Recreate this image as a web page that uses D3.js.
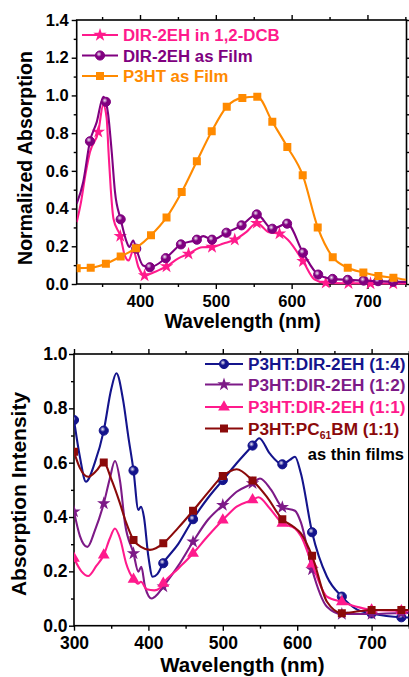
<!DOCTYPE html>
<html>
<head>
<meta charset="utf-8">
<script src="https://cdn.jsdelivr.net/npm/d3@7"></script>
<style>
  body { margin: 0; background: #fff; }
  svg { display: block; font-family: "Liberation Sans", Arial, sans-serif; font-weight: bold; }
</style>
</head>
<body>
<div id="chart"></div>
<script>
// ---- top panel data: [wavelength nm, absorption, 1 = symbol drawn] ----
var topXTicks = [400, 500, 600, 700]
var topXMinor = [350, 450, 550, 650, 750]
var topYTicks = [0, 0.2, 0.4, 0.6, 0.8, 1.0, 1.2, 1.4]
var topYMinor = [0.1, 0.3, 0.5, 0.7, 0.9, 1.1, 1.3]

var dirSolution = [
  [316.5,0.328,0],[322,0.43,0],[328,0.58,0],[334,0.70,0],[345,0.807,1],[351.5,0.95,0],[356,0.88,0],
  [358.5,0.70,0],[361.5,0.50,0],[365,0.346,0],[374,0.254,1],[380,0.151,0],[385,0.125,0],[391,0.178,0],
  [398,0.089,0],[406,0.045,1],[420,0.065,0],[435,0.093,1],[450,0.135,0],[464,0.16,1],[482,0.195,0],
  [495,0.196,1],[510,0.215,0],[525,0.235,1],[540,0.275,0],[554,0.323,1],[570,0.275,0],[584,0.267,1],
  [595,0.235,0],[615,0.121,1],[630,0.025,0],[645,0.006,1],[675,0.004,1],[704,0.003,1],[734,0.003,1],[751,0.003,0]
]
var dirFilm = [
  [316.5,0.426,0],[325,0.54,0],[334,0.757,1],[343,0.86,0],[351.6,0.993,0],[355,0.966,1],[358,0.90,0],
  [362.7,0.70,0],[367,0.488,0],[374.5,0.343,1],[382.5,0.222,0],[386,0.196,0],[391,0.231,0],[395,0.187,1],
  [404,0.098,0],[413,0.089,1],[434,0.137,1],[454,0.21,1],[475,0.235,1],[483.5,0.254,0],[495,0.235,1],
  [514,0.272,1],[534,0.311,1],[554,0.369,1],[574.5,0.293,1],[594,0.32,1],[615,0.166,1],[635,0.05,1],
  [654,0.027,1],[674,0.022,1],[695,0.018,1],[714,0.015,1],[734,0.012,1],[751,0.011,0]
]
var p3htFilm = [
  [316.5,0.084,1],[335,0.086,1],[355,0.107,1],[374.5,0.146,1],[394.7,0.19,1],[414.5,0.258,1],[435,0.353,1],
  [455,0.488,1],[475,0.651,1],[494.6,0.81,1],[514.4,0.94,1],[535,0.987,1],[554.7,0.993,1],[574.5,0.86,1],
  [594.3,0.727,1],[614.6,0.577,1],[634.4,0.30,1],[654.2,0.142,1],[674,0.086,1],[694.6,0.061,1],
  [714.4,0.043,1],[734.2,0.033,1],[751,0.022,0]
]
var topNames = ['DIR-2EH in 1,2-DCB', 'DIR-2EH as Film', 'P3HT as Film']

// ---- bottom panel data ----
var botXTicks = [300, 400, 500, 600, 700]
var botXMinor = [350, 450, 550, 650, 750]
var botYTicks = [0, 0.2, 0.4, 0.6, 0.8, 1.0]
var botYMinor = [0.1, 0.3, 0.5, 0.7, 0.9]

var blend14 = [
  [300,0.757,1],[308,0.62,0],[316,0.53,0],[328,0.60,0],[340,0.718,1],[350,0.87,0],[357,0.929,0],[366,0.83,0],
  [373,0.696,0],[380,0.571,1],[386.5,0.426,0],[390,0.438,0],[394,0.40,0],[400,0.254,0],[405.7,0.18,0],
  [412,0.19,0],[420,0.23,1],[440,0.30,0],[460,0.392,1],[480,0.47,0],[500,0.536,1],[518.6,0.598,0],
  [540,0.663,1],[549,0.69,0],[563,0.634,0],[580,0.594,1],[590,0.61,0],[597,0.622,0],[605,0.56,0],
  [620,0.344,1],[640,0.18,0],[660,0.107,1],[680,0.06,0],[700,0.045,1],[720,0.036,0],[740,0.031,1],[750,0.03,0]
]
var blend12 = [
  [300,0.42,1],[308,0.33,0],[318,0.29,0],[328,0.35,0],[340,0.45,1],[348,0.54,0],[355,0.606,0],[362,0.53,0],
  [368.5,0.377,0],[380,0.266,1],[386.5,0.199,0],[390.5,0.217,0],[395.5,0.143,0],[404.4,0.10,0],[412,0.115,0],
  [420,0.144,1],[440,0.22,0],[460,0.309,1],[480,0.39,0],[500,0.444,1],[518.6,0.493,0],[540,0.524,1],
  [550,0.542,0],[565,0.50,0],[580,0.436,1],[597,0.423,0],[605,0.38,0],[620,0.207,1],[640,0.07,0],
  [660,0.043,1],[700,0.043,1],[740,0.047,1],[750,0.047,0]
]
var blend11 = [
  [300,0.248,1],[310,0.20,0],[319,0.183,0],[330,0.22,0],[340,0.26,1],[348,0.32,0],[355,0.358,0],[362,0.32,0],
  [370,0.23,0],[380,0.171,1],[386,0.155,0],[390,0.162,0],[397.7,0.134,0],[408,0.13,0],[416,0.139,0],
  [420,0.156,1],[440,0.21,0],[460,0.266,1],[480,0.33,0],[500,0.389,1],[518.6,0.438,0],[540,0.463,1],
  [548,0.473,0],[563,0.432,0],[580,0.377,1],[597,0.358,0],[605,0.33,0],[620,0.227,1],[640,0.107,0],
  [660,0.088,1],[680,0.07,0],[700,0.058,1],[740,0.055,1],[750,0.055,0]
]
var pcbm11 = [
  [300,0.64,1],[308,0.58,0],[319,0.548,0],[330,0.57,0],[340,0.601,1],[350,0.54,0],[361.8,0.45,0],[370,0.38,0],
  [380,0.315,1],[390,0.29,0],[402,0.279,0],[410,0.285,0],[420,0.303,1],[440,0.36,0],[460,0.423,1],[480,0.49,0],
  [500,0.551,1],[518.6,0.576,0],[540,0.534,1],[559,0.475,0],[580,0.392,1],[595,0.364,0],[605,0.34,0],
  [620,0.257,1],[640,0.088,0],[660,0.046,1],[700,0.058,1],[740,0.058,1],[750,0.058,0]
]

var W = 409, H = 677

var svg = d3.select('#chart')
  .append('svg')
    .attr('width', W)
    .attr('height', H)

var defs = svg.append('defs')

// shaded ball look used by the circle symbols
function ball(id, color){
  var g = defs.append('radialGradient')
      .attr('id', id)
      .attr('cx', '38%').attr('cy', '35%').attr('r', '65%')
  g.append('stop').attr('offset', '0%').attr('stop-color', '#f2eef6')
  g.append('stop').attr('offset', '45%').attr('stop-color', color)
  g.append('stop').attr('offset', '100%').attr('stop-color', color)
  return 'url(#' + id + ')'
}

var symbols = {
  star: [d3.symbolStar, 56],
  circle: [d3.symbolCircle, 66],
  square: [d3.symbolSquare, 64],
  triangle: [d3.symbolTriangle, 60]
}

function marker(g, shape, color, fill, cx, cy){
  var s = symbols[shape]
  g.append('path')
      .attr('d', d3.symbol().type(s[0]).size(s[1])())
      .attr('transform', 'translate(' + cx + ',' + cy + ')')
      .attr('fill', fill || color)
      .attr('stroke', shape == 'circle' ? color : 'none')
      .attr('stroke-width', 1)
}

function panel(o){
  var x = d3.scaleLinear().domain(o.xDomain).range([o.left, o.right])
  var y = d3.scaleLinear().domain(o.yDomain).range([o.bottom, o.top])
  var g = svg.append('g')

  function styleAxis(sel){
    sel.select('.domain').remove()
    sel.selectAll('line').attr('stroke', '#000').attr('stroke-width', 1.4)
    sel.selectAll('text').attr('font-family', null).attr('font-size', o.tickFont).attr('fill', '#000')
    sel.attr('font-family', null)
  }

  // main ticks with labels
  g.append('g').attr('transform', 'translate(0,' + o.bottom + ')')
      .call(d3.axisBottom(x).tickValues(o.xTicks).tickSize(5).tickPadding(o.xPad).tickFormat(d3.format('d')))
      .call(styleAxis)
  g.append('g').attr('transform', 'translate(' + o.left + ',0)')
      .call(d3.axisLeft(y).tickValues(o.yTicks).tickSize(5).tickPadding(o.yPad).tickFormat(d3.format('.1f')))
      .call(styleAxis)
  // minor ticks and mirrored ticks on top / right
  var more = [
    [d3.axisBottom(x).tickValues(o.xMinor).tickSize(3), 'translate(0,' + o.bottom + ')'],
    [d3.axisLeft(y).tickValues(o.yMinor).tickSize(3), 'translate(' + o.left + ',0)'],
    [d3.axisTop(x).tickValues(o.xTicks).tickSize(5), 'translate(0,' + o.top + ')'],
    [d3.axisTop(x).tickValues(o.xMinor).tickSize(3), 'translate(0,' + o.top + ')'],
    [d3.axisRight(y).tickValues(o.yTicks).tickSize(5), 'translate(' + o.right + ',0)'],
    [d3.axisRight(y).tickValues(o.yMinor).tickSize(3), 'translate(' + o.right + ',0)']
  ]
  more.forEach(function(m){
    g.append('g').attr('transform', m[1])
        .call(m[0].tickFormat(''))
        .call(styleAxis)
  })

  g.append('rect')
      .attr('x', o.left).attr('y', o.top)
      .attr('width', o.right - o.left).attr('height', o.bottom - o.top)
      .attr('fill', 'none').attr('stroke', '#000').attr('stroke-width', 1.6)

  var clipId = o.id + '-clip'
  defs.append('clipPath').attr('id', clipId)
    .append('rect')
      .attr('x', o.left).attr('y', o.top - 6)
      .attr('width', o.right - o.left).attr('height', o.bottom - o.top + 12)

  var plot = g.append('g').attr('clip-path', 'url(#' + clipId + ')')
  var line = d3.line()
      .x(function(d){ return x(d[0]) })
      .y(function(d){ return y(d[1]) })
      .curve(d3.curveMonotoneX)

  o.series.forEach(function(s){
    plot.append('path')
        .attr('d', line(s.values))
        .attr('fill', 'none')
        .attr('stroke', s.color)
        .attr('stroke-width', 2.1)
    s.values.filter(function(d){ return d[2] }).forEach(function(d){
      marker(plot, s.shape, s.color, s.fill, x(d[0]), y(d[1]))
    })
  })

  // legend
  o.series.forEach(function(s, i){
    var ly = o.legend.rows[i]
    g.append('line')
        .attr('x1', o.legend.x1).attr('x2', o.legend.x2)
        .attr('y1', ly).attr('y2', ly)
        .attr('stroke', s.color).attr('stroke-width', 2)
    marker(g, s.shape, s.color, s.fill, (o.legend.x1 + o.legend.x2) / 2, ly)
    var t = g.append('text')
        .attr('x', o.legend.tx).attr('y', ly + 6)
        .attr('font-size', o.legend.font)
        .attr('fill', s.color)
    if (s.sub){
      t.append('tspan').text(s.sub[0])
      t.append('tspan').text(s.sub[1]).attr('font-size', 10.5).attr('dy', 4)
      t.append('tspan').text(s.sub[2]).attr('dy', -4)
    } else {
      t.text(s.name)
    }
  })

  // axis titles
  g.append('text')
      .attr('x', (o.left + o.right) / 2 + 1).attr('y', o.xTitleY)
      .attr('text-anchor', 'middle')
      .attr('font-size', o.titleFont)
      .text('Wavelength (nm)')
  g.append('text')
      .attr('transform', 'translate(' + o.yTitleX + ',' + o.yTitleMid + ') rotate(-90)')
      .attr('text-anchor', 'middle')
      .attr('font-size', o.yTitleFont)
      .text(o.yTitle)
  return g
}

panel({
  id: 'top',
  left: 76.7, right: 406.5, top: 20, bottom: 284,
  xDomain: [316.5, 751.5], yDomain: [0, 1.4],
  xTicks: topXTicks, xMinor: topXMinor, yTicks: topYTicks, yMinor: topYMinor,
  tickFont: 16.5, xPad: 6, yPad: 3,
  titleFont: 19.5, xTitleY: 328,
  yTitle: 'Normalized Absorption', yTitleX: 32, yTitleMid: 158, yTitleFont: 19.5,
  series: [
    {name: topNames[0], values: dirSolution, color: '#ff1a8c', shape: 'star'},
    {name: topNames[1], values: dirFilm, color: '#800080', shape: 'circle', fill: ball('ballPurple', '#800080')},
    {name: topNames[2], values: p3htFilm, color: '#ff8a00', shape: 'square'}
  ],
  legend: {x1: 82, x2: 118, tx: 123, font: 16.8, rows: [35, 55.5, 76]}
})

var bottom = panel({
  id: 'bot',
  left: 74, right: 408.8, top: 354, bottom: 625.7,
  xDomain: [300, 750], yDomain: [0, 1.0],
  xTicks: botXTicks, xMinor: botXMinor, yTicks: botYTicks, yMinor: botYMinor,
  tickFont: 17.5, xPad: 6, yPad: 1.5,
  titleFont: 20.5, xTitleY: 672,
  yTitle: 'Absorption Intensity', yTitleX: 26, yTitleMid: 494, yTitleFont: 21,
  series: [
    {name: 'P3HT:DIR-2EH (1:4)', values: blend14, color: '#14148c', shape: 'circle', fill: ball('ballNavy', '#14148c')},
    {name: 'P3HT:DIR-2EH (1:2)', values: blend12, color: '#7d1a87', shape: 'star'},
    {name: 'P3HT:DIR-2EH (1:1)', values: blend11, color: '#ff1a8c', shape: 'triangle'},
    {name: 'P3HT:PC61BM (1:1)', sub: ['P3HT:PC', '61', 'BM (1:1)'], values: pcbm11, color: '#8b0a0a', shape: 'square'}
  ],
  legend: {x1: 205, x2: 243, tx: 248, font: 17.2, rows: [364, 384.5, 407, 428.5]}
})

bottom.append('text')
    .attr('x', 404).attr('y', 459.5)
    .attr('text-anchor', 'end')
    .attr('font-size', 16.5)
    .text('as thin films')
</script>
</body>
</html>
